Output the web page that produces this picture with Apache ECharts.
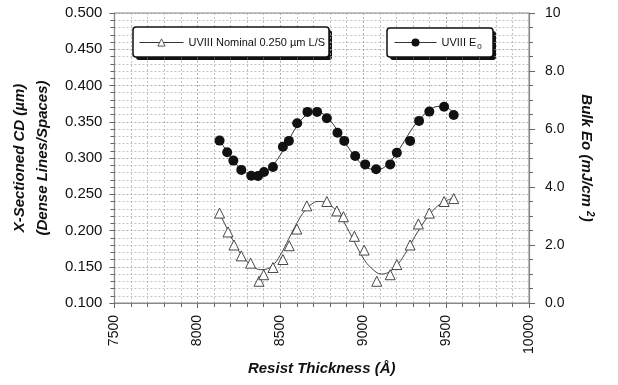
<!DOCTYPE html>
<html>
<head>
<meta charset="utf-8">
<script src="https://cdn.jsdelivr.net/npm/echarts@6/dist/echarts.min.js"></script>
<style>
  html, body { margin: 0; padding: 0; background: #fff; }
  #chart { width: 618px; height: 385px; }
</style>
</head>
<body>
<div id="chart"></div>
<script>
// CD measurements (triangles), left axis
var cdThick = [8134, 8185, 8221, 8265, 8321, 8372, 8400, 8456, 8516, 8554, 8600, 8660, 8781, 8841, 8881, 8947, 9006, 9082, 9163, 9203, 9283, 9333, 9399, 9488, 9546]
var cdValue = [0.224, 0.198, 0.180, 0.165, 0.155, 0.130, 0.139, 0.149, 0.160, 0.179, 0.202, 0.234, 0.240, 0.227, 0.219, 0.192, 0.173, 0.130, 0.139, 0.153, 0.180, 0.209, 0.224, 0.240, 0.244]
// CD fit curve
var cdFitThick = [8130, 8200, 8250, 8300, 8350, 8390, 8450, 8500, 8550, 8600, 8650, 8700, 8730, 8780, 8850, 8900, 8950, 9000, 9050, 9110, 9150, 9200, 9250, 9300, 9350, 9400, 9450, 9500, 9545]
var cdFitValue = [0.226, 0.193, 0.172, 0.157, 0.148, 0.146, 0.151, 0.166, 0.188, 0.210, 0.228, 0.238, 0.240, 0.238, 0.224, 0.205, 0.183, 0.162, 0.148, 0.140, 0.142, 0.151, 0.167, 0.187, 0.206, 0.222, 0.234, 0.241, 0.245]

// Bulk Eo (filled circles), right axis
var eoThick = [8134, 8180, 8217, 8265, 8325, 8366, 8402, 8456, 8516, 8552, 8602, 8664, 8722, 8781, 8845, 8886, 8952, 9012, 9078, 9163, 9203, 9283, 9337, 9399, 9488, 9546]
var eoValue = [5.60, 5.20, 4.91, 4.59, 4.39, 4.38, 4.52, 4.69, 5.39, 5.59, 6.20, 6.59, 6.59, 6.37, 5.87, 5.59, 5.07, 4.78, 4.61, 4.78, 5.18, 5.59, 6.28, 6.60, 6.77, 6.48]
// Eo fit curve
var eoFitThick = [8130, 8200, 8250, 8300, 8350, 8400, 8450, 8500, 8550, 8600, 8650, 8700, 8750, 8800, 8850, 8900, 8950, 9000, 9050, 9100, 9150, 9200, 9250, 9300, 9350, 9400, 9450, 9500, 9545]
var eoFitValue = [5.65, 5.05, 4.70, 4.47, 4.40, 4.47, 4.72, 5.10, 5.60, 6.10, 6.45, 6.62, 6.55, 6.30, 5.90, 5.45, 5.05, 4.75, 4.62, 4.62, 4.80, 5.15, 5.60, 6.05, 6.40, 6.65, 6.78, 6.75, 6.55]

var xTicks = [7500, 10000]
var cdRange = [0.1, 0.5]
var eoRange = [0, 10]

function pairs(xs, ys) {
    return xs.map(function (x, i) { return [x, ys[i]] })
}

// legend box with a hard drop shadow
function legendBox(x, y, w, h) {
    return [{
        type: 'rect', z: 0, silent: true,
        shape: { x: x + 3, y: y + 3, width: w, height: h, r: 3 },
        style: { fill: '#111' }
    }, {
        type: 'rect', z: 1, silent: true,
        shape: { x: x, y: y, width: w, height: h, r: 3 },
        style: { fill: '#fff', stroke: '#111', lineWidth: 1.5 }
    }]
}

var font = '"Liberation Sans", Arial, Helvetica, sans-serif'
var gridLine = { lineStyle: { color: '#999', type: [2, 2], width: 0.8 } }

var myChart = echarts.init(document.getElementById('chart'))
var option = {
    backgroundColor: '#fff',
    textStyle: { fontFamily: font },
    grid: {
        left: 114, right: 89, top: 13, bottom: 82,
        show: true, borderColor: '#888', borderWidth: 1
    },
    graphic: legendBox(133, 27, 196, 30).concat(legendBox(387, 28, 106, 29)),
    legend: [{
        data: ['UVIII Nominal 0.250 µm L/S'],
        left: 139, top: 37, z: 10,
        padding: 0,
        itemWidth: 44, itemHeight: 9,
        itemStyle: { borderWidth: 0.8 },
        lineStyle: { width: 1, color: '#333', opacity: 1 },
        textStyle: { fontSize: 11, color: '#111', fontFamily: font }
    }, {
        data: ['UVIII E0'],
        left: 394, top: 37, z: 10,
        padding: 0,
        itemWidth: 42, itemHeight: 10,
        lineStyle: { width: 1, color: '#333', opacity: 1 },
        formatter: function (name) { return 'UVIII E{s|0}' },
        textStyle: {
            fontSize: 11, color: '#111', fontFamily: font,
            rich: { s: { fontSize: 8, verticalAlign: 'bottom', padding: [8, 0, 0, 1] } }
        }
    }],
    xAxis: {
        type: 'value',
        min: xTicks[0], max: xTicks[1], interval: 500,
        name: 'Resist Thickness (Å)',
        nameLocation: 'middle', nameGap: 56,
        nameTextStyle: { fontSize: 15, fontWeight: 'bold', fontStyle: 'italic', color: '#111', fontFamily: font },
        axisLine: { lineStyle: { color: '#888', width: 1.2 } },
        axisTick: { show: true, length: 5, lineStyle: { color: '#666' } },
        minorTick: { show: true, splitNumber: 5, length: 4, lineStyle: { color: '#666' } },
        axisLabel: {
            rotate: 90, fontSize: 14, color: '#111', margin: 12,
            formatter: function (v) { return String(v) }
        },
        splitLine: gridLine,
        minorSplitLine: { show: true, lineStyle: { color: '#aaa', type: [2, 2], width: 0.7 } }
    },
    yAxis: [{
        type: 'value',
        min: cdRange[0], max: cdRange[1], interval: 0.05,
        name: 'X-Sectioned CD (µm)\n(Dense Lines/Spaces)',
        nameLocation: 'middle', nameGap: 60, nameRotate: 90,
        nameTextStyle: { fontSize: 15, fontWeight: 'bold', fontStyle: 'italic', color: '#111', lineHeight: 23, fontFamily: font },
        axisLine: { show: true, lineStyle: { color: '#888', width: 1.2 } },
        axisTick: { show: true, length: 5, lineStyle: { color: '#666' } },
        minorTick: { show: true, splitNumber: 5, length: 4, lineStyle: { color: '#666' } },
        axisLabel: {
            fontSize: 15, color: '#111', margin: 12,
            formatter: function (v) { return v.toFixed(3) }
        },
        splitLine: gridLine,
        minorSplitLine: { show: true, lineStyle: { color: '#aaa', type: [2, 2], width: 0.7 } }
    }, {
        type: 'value',
        position: 'right',
        min: eoRange[0], max: eoRange[1], interval: 2,
        name: 'Bulk Eo (mJ/cm {sup|2})',
        nameLocation: 'middle', nameGap: 48, nameRotate: -90,
        nameTextStyle: {
            fontSize: 15, fontWeight: 'bold', fontStyle: 'italic', color: '#111', fontFamily: font,
            rich: { sup: { fontSize: 10, fontWeight: 'bold', fontStyle: 'italic', verticalAlign: 'top', padding: [0, 0, 8, 0] } }
        },
        axisLine: { show: true, lineStyle: { color: '#888', width: 1.2 } },
        axisTick: { show: true, length: 6, lineStyle: { color: '#666' } },
        minorTick: { show: true, splitNumber: 4, length: 4, lineStyle: { color: '#666' } },
        axisLabel: {
            fontSize: 14, color: '#111', margin: 16,
            formatter: function (v) { return v === 10 ? '10' : v.toFixed(1) }
        },
        splitLine: { show: false }
    }],
    series: [{
        name: 'UVIII Nominal 0.250 µm L/S',
        type: 'line',
        yAxisIndex: 0,
        data: pairs(cdThick, cdValue),
        symbol: 'triangle', symbolSize: 10,
        lineStyle: { width: 0, opacity: 0 },
        itemStyle: { color: '#fff', borderColor: '#333', borderWidth: 0.9 },
        z: 4
    }, {
        name: 'cdfit',
        type: 'line',
        yAxisIndex: 0,
        data: pairs(cdFitThick, cdFitValue),
        smooth: 0.4, showSymbol: false, symbol: 'none',
        lineStyle: { width: 1, color: '#444' },
        z: 3
    }, {
        name: 'UVIII E0',
        type: 'line',
        yAxisIndex: 1,
        data: pairs(eoThick, eoValue),
        symbol: 'circle', symbolSize: 10,
        lineStyle: { width: 0, opacity: 0 },
        itemStyle: { color: '#111', borderColor: '#111', borderWidth: 0 },
        z: 4
    }, {
        name: 'eofit',
        type: 'line',
        yAxisIndex: 1,
        data: pairs(eoFitThick, eoFitValue),
        smooth: 0.4, showSymbol: false, symbol: 'none',
        lineStyle: { width: 1, color: '#333' },
        z: 3
    }]
}
myChart.setOption(option)
</script>
</body>
</html>
